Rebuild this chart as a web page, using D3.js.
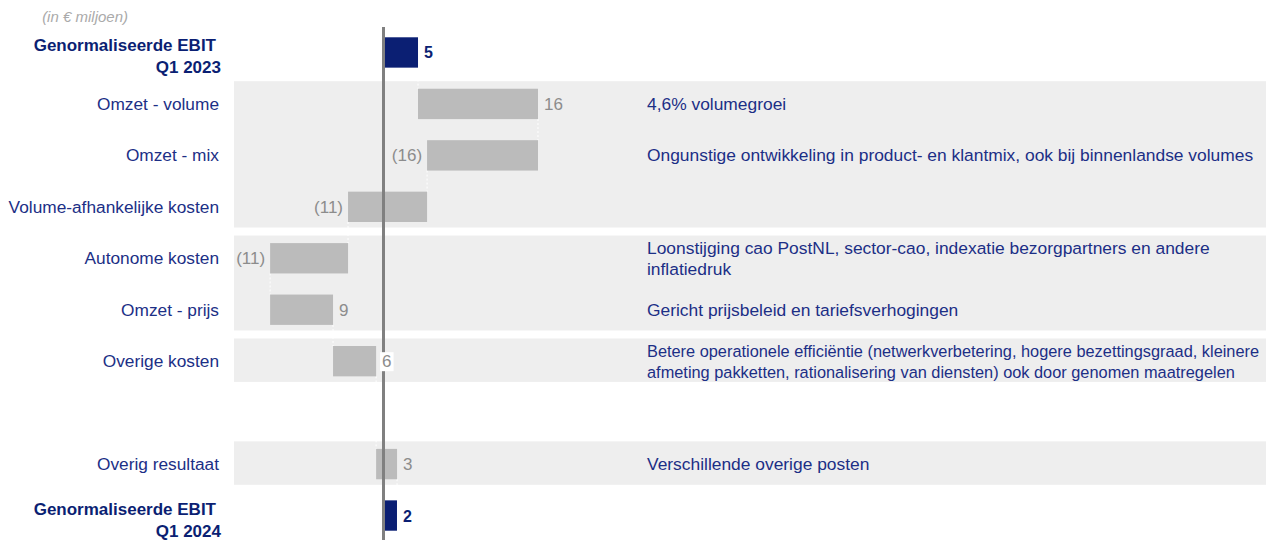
<!DOCTYPE html>
<html lang="nl">
<head>
    <meta charset="utf-8"/>
    <title>Genormaliseerde EBIT brug</title>
    <script src="https://d3js.org/d3.v7.min.js"></script>
    <style>
        body { margin: 0; background: #fff; }
        text { font-family: "Liberation Sans", Arial, sans-serif; }
    </style>
</head>
<body>
<div id="viz"></div>
<script type="text/javascript">

    // data
    const categories = ["Genormaliseerde EBIT|Q1 2023", "Omzet - volume", "Omzet - mix", "Volume-afhankelijke kosten",
        "Autonome kosten", "Omzet - prijs", "Overige kosten", "", "Overig resultaat", "Genormaliseerde EBIT|Q1 2024"];
    const kinds = ["total", "delta", "delta", "delta", "delta", "delta", "delta", "gap", "delta", "total"];
    const values = [4.76, 16.55, -15.3, -10.9, -10.75, 8.68, 5.94, 0, 2.89, 1.86];
    const valueLabels = ["5", "16", "(16)", "(11)", "(11)", "9", "6", "", "3", "2"];
    const comments = ["", "4,6% volumegroei", "Ongunstige ontwikkeling in product- en klantmix, ook bij binnenlandse volumes", "",
        "Loonstijging cao PostNL, sector-cao, indexatie bezorgpartners en andere|inflatiedruk",
        "Gericht prijsbeleid en tariefsverhogingen",
        "Betere operationele efficiëntie (netwerkverbetering, hogere bezettingsgraad, kleinere|afmeting pakketten, rationalisering van diensten) ook door genomen maatregelen",
        "", "Verschillende overige posten", ""];
    // grijze achtergrondvlakken (welke rijen horen bij elkaar)
    const panels = [[1, 3], [4, 5], [6, 6], [8, 8]];

    const navy = "#0b1f73", labelBlue = "#1c2f86", grey = "#bbbbbb", panelGrey = "#eeeeee";

    const width = 1266, height = 540;
    const svg = d3.select("#viz").append("svg")
        .attr("width", width).attr("height", height);

    // escalas
    const x = d3.scaleLinear().domain([0, 10]).range([383.5, 456]);
    const y = d3.scaleBand().domain(d3.range(categories.length)).range([27, 541]).paddingInner(0.41).paddingOuter(0.2);

    // waterfall: start/end per rij
    let cum = 0;
    const rows = categories.map((c, i) => {
        let s, e;
        if (kinds[i] === "total") { s = 0; e = values[i]; cum = values[i]; }
        else if (kinds[i] === "gap") { s = e = cum; }
        else { s = cum; e = cum + values[i]; cum = e; }
        return {i: i, cat: c, kind: kinds[i], start: s, end: e, value: values[i], label: valueLabels[i], comment: comments[i]};
    });

    const step = y.step();
    // achtergrond vlakken
    svg.selectAll("rect.panel")
        .data(panels).enter()
        .append("rect")
        .attr("class", "panel")
        .attr("x", 234)
        .attr("y", d => y(d[0]) + y.bandwidth() / 2 - step / 2 + 3)
        .attr("width", width - 234)
        .attr("height", d => (d[1] - d[0] + 1) * step - 8)
        .attr("fill", panelGrey);

    // "in € miljoen"
    svg.append("text")
        .attr("x", 128).attr("y", 22)
        .attr("text-anchor", "end")
        .style("font-size", "15px").style("font-style", "italic")
        .attr("fill", "#aaaaaa")
        .text("(in € miljoen)");

    // verbindingslijnen (wit, gestippeld)
    const conn = rows.filter(d => d.kind !== "gap" && d.i < rows.length - 1);
    svg.selectAll("line.conn")
        .data(conn).enter()
        .append("line")
        .attr("class", "conn")
        .attr("x1", d => x(d.end)).attr("x2", d => x(d.end))
        .attr("y1", d => y(d.i) + y.bandwidth())
        .attr("y2", d => {
            let n = d.i + 1;
            if (kinds[n] === "gap") n++;
            return y(n);
        })
        .attr("stroke", "#ffffff").attr("stroke-width", 1).attr("stroke-dasharray", "2,2");

    // balken
    const bars = rows.filter(d => d.kind !== "gap");
    svg.selectAll("rect.bar")
        .data(bars).enter()
        .append("rect")
        .attr("class", "bar")
        .attr("x", d => x(Math.min(d.start, d.end)))
        .attr("y", d => y(d.i))
        .attr("width", d => Math.abs(x(d.end) - x(d.start)))
        .attr("height", y.bandwidth())
        .attr("fill", d => d.kind === "total" ? navy : grey);

    // nul-lijn
    svg.append("line")
        .attr("x1", x(0)).attr("x2", x(0))
        .attr("y1", 27).attr("y2", height)
        .attr("stroke", "#808080").attr("stroke-width", 3);

    // waarde labels
    const vl = svg.selectAll("g.vlabel")
        .data(bars).enter()
        .append("g")
        .attr("class", "vlabel");
    vl.each(function (d) {
        const g = d3.select(this);
        const neg = d.value < 0;
        const px = neg ? x(Math.min(d.start, d.end)) - 5 : x(Math.max(d.start, d.end)) + 6;
        const t = g.append("text")
            .attr("x", px)
            .attr("y", y(d.i) + y.bandwidth() / 2 + 6)
            .attr("text-anchor", neg ? "end" : "start")
            .style("font-size", d.kind === "total" ? "16px" : "17px")
            .style("font-weight", d.kind === "total" ? "bold" : "normal")
            .attr("fill", d.kind === "total" ? navy : "#8c8c8c")
            .text(d.label);
        // wit vlak als het label over de nul-lijn valt
        const bb = t.node().getBBox();
        if (bb.x < x(0) + 2 && bb.x + bb.width > x(0) - 2) {
            g.insert("rect", "text")
                .attr("x", bb.x - 2).attr("y", bb.y)
                .attr("width", bb.width + 4).attr("height", bb.height)
                .attr("fill", "#ffffff");
        }
    });

    // categorie labels
    svg.selectAll("text.cat")
        .data(rows.filter(d => d.cat !== "")).enter()
        .append("text")
        .attr("class", "cat")
        .attr("text-anchor", "end")
        .style("font-size", d => d.kind === "total" ? "17px" : "17.3px")
        .style("font-weight", d => d.kind === "total" ? "bold" : "normal")
        .attr("fill", d => d.kind === "total" ? navy : labelBlue)
        .each(function (d) {
            const parts = d.cat.split("|");
            const t = d3.select(this);
            const cy = y(d.i) + y.bandwidth() / 2;
            if (parts.length === 1) {
                t.append("tspan").attr("x", 219).attr("y", cy + 6).text(parts[0]);
            } else {
                t.append("tspan").attr("x", 216).attr("y", cy - 1).text(parts[0]);
                t.append("tspan").attr("x", 221).attr("y", cy + 21).text(parts[1]);
            }
        });

    // toelichting (te lange tekst krijgt een kleinere letter zodat hij past)
    const maxW = 612, commentSize = 17.4;
    svg.selectAll("text.comment")
        .data(rows.filter(d => d.comment !== "")).enter()
        .append("text")
        .attr("class", "comment")
        .style("font-size", commentSize + "px")
        .attr("fill", labelBlue)
        .each(function (d) {
            const parts = d.comment.split("|");
            const t = d3.select(this);
            const cy = y(d.i) + y.bandwidth() / 2;
            parts.forEach((p, k) => {
                t.append("tspan")
                    .attr("x", 647)
                    .attr("y", cy + 6 + (k - (parts.length - 1) / 2) * 21)
                    .text(p);
            });
            const w = d3.max(t.selectAll("tspan").nodes(), n => n.getComputedTextLength());
            if (w > maxW) t.style("font-size", (commentSize * maxW / w).toFixed(2) + "px");
        });

</script>
</body>
</html>
